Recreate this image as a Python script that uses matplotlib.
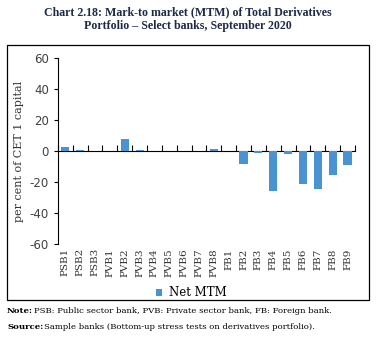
import numpy as np
import matplotlib.pyplot as plt
from matplotlib.patches import Rectangle

banks = ['PSB1', 'PSB2', 'PSB3', 'PVB1', 'PVB2', 'PVB3', 'PVB4', 'PVB5', 'PVB6', 'PVB7',
         'PVB8', 'FB1', 'FB2', 'FB3', 'FB4', 'FB5', 'FB6', 'FB7', 'FB8', 'FB9']
net_mtm = [2.5, 0.7, 0.2, 0.2, 7.5, 0.8, 0.2, 0.2, -0.3, 0.3,
           1.0, 0.3, -8.3, -1.3, -25.6, -2.2, -21.5, -24.7, -15.2, -8.9]
yticks = [-60, -40, -20, 0, 20, 40, 60]

fig = plt.figure(figsize=(3.76, 3.39), dpi=100)
ax = fig.add_axes([0.154, 0.280, 0.79, 0.549])

x = np.arange(len(banks))
ax.bar(x, net_mtm, width=0.55, color='#4a93d2', label='Net MTM')

ax.set_xlim(-0.5, len(banks) - 0.5)
ax.set_ylim(-60, 60)
ax.set_yticks(yticks)
ax.set_yticklabels([str(v) for v in yticks], fontsize=8.5, color='#404040',
                   family='DejaVu Sans')
ax.tick_params(axis='y', length=3, width=0.8)
ax.set_ylabel('per cent of CET 1 capital', family='DejaVu Serif', fontsize=8,
              color='#333333', labelpad=4)

ax.set_xticks(x)
ax.set_xticklabels(banks, rotation=90, family='DejaVu Serif', fontsize=7.5,
                   color='#333333')
ax.tick_params(axis='x', length=0, pad=3)
for s in ['top', 'right', 'bottom']:
    ax.spines[s].set_visible(False)

# zero line with tick marks between categories
zax = ax.secondary_xaxis(0.5)
zax.set_xticks(np.arange(-0.5, len(banks), 1.0))
zax.set_xticklabels([])
zax.tick_params(length=4, width=0.8)

ax.legend(loc='upper center', bbox_to_anchor=(0.45, -0.17), frameon=False,
          prop={'family': 'DejaVu Serif', 'size': 8.5}, handlelength=0.5,
          handleheight=0.5, handletextpad=0.6)

# outer frame
fig.patches.append(Rectangle((0.019, 0.115), 0.962, 0.752, transform=fig.transFigure,
                             fill=False, edgecolor='black', linewidth=0.9))

title_kw = dict(ha='center', va='center', family='Liberation Serif', fontsize=8.6,
                fontweight='bold', color='#1c2a48')
fig.text(0.5, 0.963, 'Chart 2.18: Mark-to market (MTM) of Total Derivatives', **title_kw)
fig.text(0.5, 0.924, 'Portfolio \u2013 Select banks, September 2020', **title_kw)

note_kw = dict(family='DejaVu Serif', fontsize=6.1, va='center')
fig.text(0.019, 0.082, 'Note:', fontweight='bold', **note_kw)
fig.text(0.091, 0.082, 'PSB: Public sector bank, PVB: Private sector bank, FB: Foreign bank.',
         **note_kw)
fig.text(0.019, 0.036, 'Source:', fontweight='bold', **note_kw)
fig.text(0.117, 0.036, 'Sample banks (Bottom-up stress tests on derivatives portfolio).',
         **note_kw)

plt.savefig('out.png', dpi=100)
